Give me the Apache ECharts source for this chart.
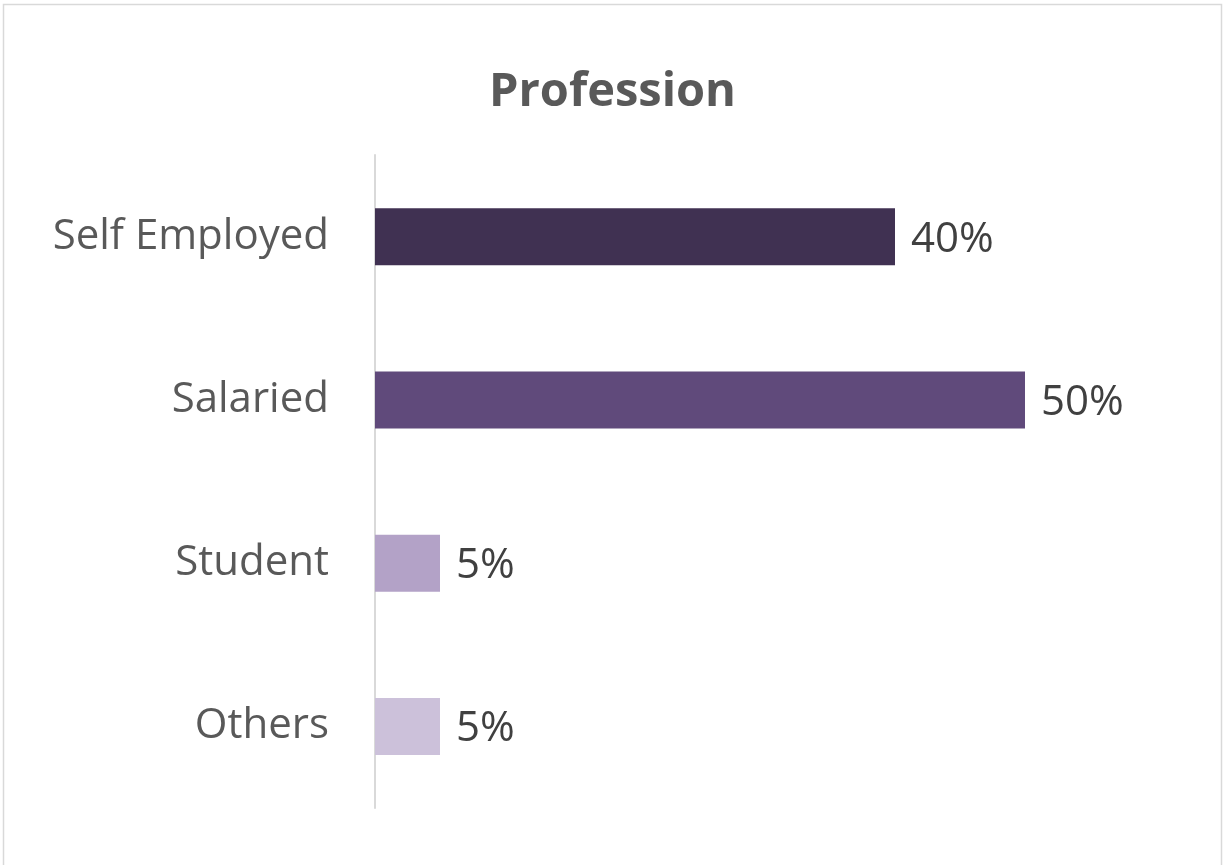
<!DOCTYPE html>
<html>
<head>
<meta charset="utf-8">
<script src="https://cdn.jsdelivr.net/npm/echarts@6/dist/echarts.min.js"></script>
<style>
  body { margin: 0; background: #fff; }
  #chart { width: 1225px; height: 865px; }
</style>
</head>
<body>
<div id="chart"></div>
<script>
  var categories = ['Self Employed', 'Salaried', 'Student', 'Others'];
  var values = [0.40, 0.50, 0.05, 0.05];
  var colors = ['#403152', '#604A7B', '#B3A2C7', '#CCC1DA'];

  var myChart = echarts.init(document.getElementById('chart'));
  var option = {
    backgroundColor: '#fff',
    title: {
      text: 'Profession',
      left: 'center',
      top: 64,
      textStyle: {
        fontFamily: 'Open Sans',
        fontSize: 47,
        fontWeight: 'bold',
        color: '#595959'
      }
    },
    graphic: [{
      type: 'rect',
      silent: true,
      shape: { x: 3.5, y: 4.5, width: 1218, height: 880 },
      style: { fill: 'none', stroke: '#d9d9d9', lineWidth: 1.5 }
    }],
    grid: {
      left: 375,
      right: 70,
      top: 155,
      bottom: 57
    },
    xAxis: {
      type: 'value',
      min: 0,
      max: 0.6,
      show: false
    },
    yAxis: {
      type: 'category',
      inverse: true,
      data: categories,
      axisTick: { show: false },
      axisLine: { lineStyle: { color: '#d9d9d9', width: 2 } },
      axisLabel: {
        margin: 46,
        padding: [6, 0, 0, 0],
        fontFamily: 'Open Sans',
        fontSize: 42,
        color: '#595959'
      }
    },
    series: [{
      type: 'bar',
      barWidth: 57,
      data: values.map(function (v, i) {
        return { value: v, itemStyle: { color: colors[i] } };
      }),
      label: {
        show: true,
        position: 'right',
        distance: 16,
        offset: [0, 3],
        fontFamily: 'Open Sans',
        fontSize: 42,
        color: '#404040',
        formatter: function (p) { return Math.round(p.value * 100) + '%'; }
      }
    }]
  };
  myChart.setOption(option);
</script>
</body>
</html>
